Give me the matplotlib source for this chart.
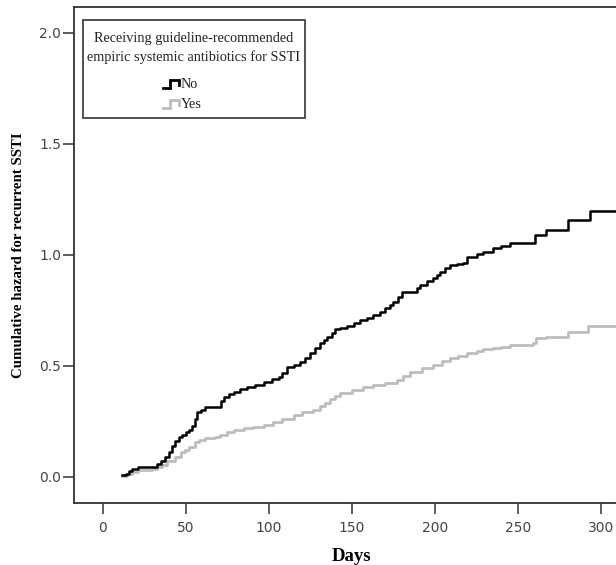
import matplotlib
matplotlib.use("Agg")
import matplotlib.pyplot as plt
from matplotlib.patches import Rectangle

# Cumulative hazard (days, hazard), step functions
days_no = [11.7, 14, 16, 18, 21.6, 25, 30.7, 33, 35, 37.7, 40, 42, 43.7, 46, 48, 50, 52, 54,
           55.5, 57, 59, 61.8, 69, 71, 73, 76, 79, 83, 87, 92, 97, 102, 106, 108, 111, 115,
           119, 122, 125, 128, 131, 133, 135, 138, 140, 143, 147, 151, 155, 159, 163, 167,
           170, 173, 175, 178, 180, 189, 191, 195, 199, 201, 203, 206, 209, 213, 217, 219,
           225, 229, 235, 240, 245, 260, 267, 280, 293, 312]
haz_no = [0.009, 0.015, 0.025, 0.035, 0.044, 0.046, 0.046, 0.06, 0.07, 0.09, 0.11, 0.14, 0.16,
          0.18, 0.19, 0.20, 0.21, 0.23, 0.26, 0.29, 0.30, 0.314, 0.316, 0.34, 0.36, 0.375,
          0.384, 0.395, 0.406, 0.415, 0.429, 0.44, 0.451, 0.47, 0.496, 0.505, 0.519, 0.535,
          0.557, 0.58, 0.602, 0.615, 0.631, 0.65, 0.665, 0.669, 0.68, 0.695, 0.707, 0.715,
          0.73, 0.744, 0.76, 0.775, 0.789, 0.81, 0.834, 0.85, 0.864, 0.88, 0.894, 0.91, 0.924,
          0.94, 0.954, 0.958, 0.962, 0.991, 1.004, 1.014, 1.029, 1.04, 1.052, 1.089, 1.112,
          1.157, 1.199, 1.199]

days_yes = [11.7, 15, 18, 21.6, 29.7, 33, 35.7, 39, 43.7, 47, 49.7, 52, 55.7, 58, 61.8, 67.8,
            70.8, 75, 78.8, 85, 90.8, 97, 102.8, 108, 114.9, 120, 126.9, 131, 134, 136.9, 140,
            143, 150, 157, 163, 170, 177, 181, 185, 192, 199, 204, 209, 214, 219, 225, 229,
            235, 240, 245, 259, 261, 267, 280, 292, 312]
haz_yes = [0.003, 0.012, 0.022, 0.03, 0.034, 0.045, 0.054, 0.07, 0.091, 0.11, 0.122, 0.135,
           0.159, 0.165, 0.174, 0.179, 0.189, 0.20, 0.211, 0.218, 0.226, 0.235, 0.249, 0.262,
           0.279, 0.29, 0.302, 0.32, 0.335, 0.35, 0.365, 0.377, 0.39, 0.406, 0.415, 0.425,
           0.437, 0.455, 0.474, 0.49, 0.504, 0.52, 0.534, 0.545, 0.557, 0.565, 0.575, 0.579,
           0.587, 0.594, 0.602, 0.624, 0.631, 0.654, 0.678, 0.678]

x_ticks = [0, 50, 100, 150, 200, 250, 300]
y_ticks = [0.0, 0.5, 1.0, 1.5, 2.0]
legend_title = ["Receiving guideline-recommended", "empiric systemic antibiotics for SSTI"]
group_labels = ["No", "Yes"]
group_colors = ["black", "#bdbdbd"]

fig = plt.figure(figsize=(6.16, 5.65), dpi=100)
ax = fig.add_axes([0.1206, 0.1103, 0.885, 0.8767])

ax.plot(days_no, haz_no, drawstyle="steps-post", color=group_colors[0], lw=1.8, zorder=3)
ax.plot(days_yes, haz_yes, drawstyle="steps-post", color=group_colors[1], lw=2.0, zorder=2)

ax.set_xlim(-17, 311)
ax.set_ylim(-0.116, 2.114)
ax.set_xticks(x_ticks)
ax.set_yticks(y_ticks)
ax.set_yticklabels(["%.1f" % v for v in y_ticks])

for s in ax.spines.values():
    s.set_color("#333333")
    s.set_linewidth(1.3)

ax.tick_params(direction="out", length=8, width=1.1, color="#333333",
               labelsize=10, labelcolor="#444444")
ax.tick_params(axis="x", pad=5)
ax.tick_params(axis="y", pad=1.5)
for lab in ax.get_xticklabels() + ax.get_yticklabels():
    lab.set_family("DejaVu Sans")

xl = ax.set_xlabel("Days", family="Liberation Serif", fontweight="bold", fontsize=13.5)
xl.set_va("center")
ax.xaxis.set_label_coords(0.508, -0.109)
yl = ax.set_ylabel("Cumulative hazard for recurrent SSTI", family="Liberation Serif",
                   fontweight="bold", fontsize=10.75)
yl.set_va("center")
ax.yaxis.set_label_coords(-0.103, 0.5)

# hand-made legend box (SPSS style), in axes fractions
def fx(px):
    return (px - 74.3) / 545.2

def fy(py):
    return (502.7 - py) / 495.4

tr = ax.transAxes
box = Rectangle((fx(83), fy(118)), fx(305) - fx(83), fy(20) - fy(118), transform=tr,
                facecolor="white", edgecolor="#444444", lw=1.3, zorder=5)
ax.add_patch(box)
for line, py in zip(legend_title, [38, 57]):
    ax.text(fx(194), fy(py), line, transform=tr, ha="center", va="center",
            family="Liberation Serif", fontsize=10.3, color="#222222", zorder=6)
for lab, col, py in zip(group_labels, group_colors, [84, 104]):
    ax.plot([fx(163), fx(170), fx(170), fx(179), fx(179)],
            [fy(py + 4), fy(py + 4), fy(py - 4), fy(py - 4), fy(py + 1)],
            color=col, lw=2.0, transform=tr, clip_on=False, zorder=6,
            solid_joinstyle="miter")
    ax.text(fx(181), fy(py), lab, transform=tr, ha="left", va="center",
            family="Liberation Serif", fontsize=10.3, color="#222222", zorder=6)

fig.savefig("out.png", dpi=100)
